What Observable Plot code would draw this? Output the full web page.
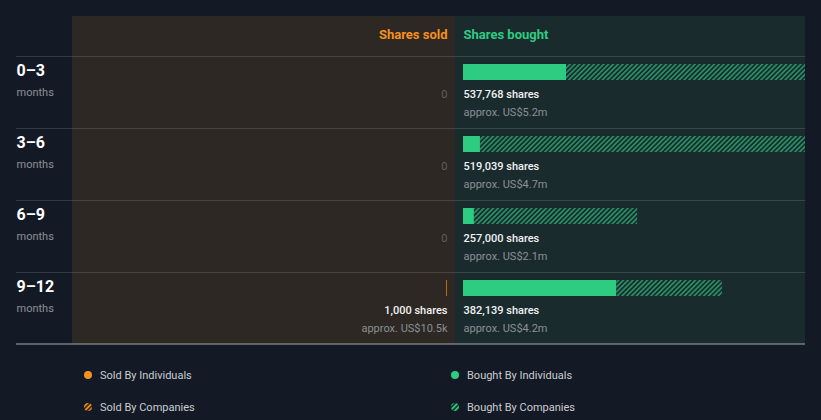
<!DOCTYPE html>
<html>
<head>
<meta charset="utf-8">
<script src="https://cdn.jsdelivr.net/npm/d3@7"></script>
<script src="https://cdn.jsdelivr.net/npm/@observablehq/plot@0.6"></script>
<style>
  body { margin: 0; background: #141a25; font-family: Roboto, "Noto Sans", sans-serif; }
  #chart svg { display: block; }
  #legend { display: block; }
</style>
</head>
<body>
<div id="chart"></div>
<svg id="legend" width="821" height="70"></svg>
<script>
// ---- data ----
const periods = ["0–3", "3–6", "6–9", "9–12"];
const periodUnit = "months";
const soldIndividuals = [0, 0, 0, 1000];
const soldCompanies = [0, 0, 0, 0];
const soldValue = ["", "", "", "US$10.5k"];
const boughtIndividuals = [152000, 25000, 16000, 226000];
const boughtCompanies = [385768, 494039, 241000, 156139];
const boughtValue = ["US$5.2m", "US$4.7m", "US$2.1m", "US$4.2m"];
const headers = ["Shares sold", "Shares bought"];
const legendLabels = ["Sold By Individuals", "Bought By Individuals", "Sold By Companies", "Bought By Companies"];

// ---- styling ----
const ORANGE = "#f5901e";
const GREEN = "#2ecc80";
const X_MIN = -648000, X_MAX = 516600, SOLD_START = -565300;
const HEADER = -40 / 72;
const fmt = d3.format(",");

const rows = periods.map((p, i) => ({
  i, period: p,
  sInd: soldIndividuals[i], sComp: soldCompanies[i], sTot: soldIndividuals[i] + soldCompanies[i], sVal: soldValue[i],
  bInd: boughtIndividuals[i], bComp: boughtCompanies[i], bTot: boughtIndividuals[i] + boughtCompanies[i], bVal: boughtValue[i]
}));

const panels = [
  {x1: SOLD_START, x2: 0, fill: "#2d2823"},
  {x1: 0, x2: X_MAX, fill: "#1a2b2e"}
];

const barOpts = {y1: "i", y2: d => d.i + 1, insetTop: 8, insetBottom: 48, clip: true};

const plot = Plot.plot({
  width: 821,
  height: 350,
  marginLeft: 16, marginRight: 16, marginTop: 16, marginBottom: 6,
  style: {background: "transparent", fontFamily: "Roboto, 'Noto Sans', sans-serif"},
  x: {domain: [X_MIN, X_MAX], axis: null},
  y: {domain: [HEADER, 4], range: [16, 344], axis: null},
  marks: [
    Plot.rect(panels, {x1: "x1", x2: "x2", y1: () => HEADER, y2: () => 4, fill: d => d.fill}),
    Plot.ruleY([0, 1, 2, 3], {stroke: "#ffffff", strokeOpacity: 0.13}),
    Plot.ruleY([4], {stroke: "#a3a8ae", dy: -0.5}),
    Plot.text([headers[0]], {x: () => 0, y: () => 0, text: d => d, dx: -8, dy: -22, textAnchor: "end", fill: ORANGE, fontSize: 13, fontWeight: 700}),
    Plot.text([headers[1]], {x: () => 0, y: () => 0, text: d => d, dx: 8, dy: -22, textAnchor: "start", fill: GREEN, fontSize: 13, fontWeight: 700}),
    // bought bars
    Plot.rect(rows, {...barOpts, x1: () => 0, x2: "bInd", dx: 8, fill: GREEN}),
    Plot.rect(rows, {...barOpts, x1: "bInd", x2: "bTot", dx: 8, fill: "url(#hatchG)"}),
    // sold bars
    Plot.rect(rows.filter(d => d.sTot > 0), {...barOpts, x1: d => -d.sInd, x2: () => 0, dx: -8, fill: ORANGE}),
    Plot.rect(rows.filter(d => d.sComp > 0), {...barOpts, x1: d => -d.sTot, x2: d => -d.sInd, dx: -8, fill: "url(#hatchO)"}),
    // bought labels
    Plot.text(rows.filter(d => d.bTot > 0), {x: () => 0, y: "i", dx: 8, dy: 38, text: d => fmt(d.bTot) + " shares", textAnchor: "start", fill: "#f2f2f2", fontSize: 11, fontWeight: 500}),
    Plot.text(rows.filter(d => d.bTot > 0), {x: () => 0, y: "i", dx: 8, dy: 56, text: d => "approx. " + d.bVal, textAnchor: "start", fill: "#8b9095", fontSize: 11}),
    Plot.text(rows.filter(d => d.bTot === 0), {x: () => 0, y: "i", dx: 8, dy: 38, text: () => "0", textAnchor: "start", fill: "#5d6166", fontSize: 11}),
    // sold labels
    Plot.text(rows.filter(d => d.sTot > 0), {x: () => 0, y: "i", dx: -8, dy: 38, text: d => fmt(d.sTot) + " shares", textAnchor: "end", fill: "#f2f2f2", fontSize: 11, fontWeight: 500}),
    Plot.text(rows.filter(d => d.sTot > 0), {x: () => 0, y: "i", dx: -8, dy: 56, text: d => "approx. " + d.sVal, textAnchor: "end", fill: "#8b9095", fontSize: 11}),
    Plot.text(rows.filter(d => d.sTot === 0), {x: () => 0, y: "i", dx: -8, dy: 38, text: () => "0", textAnchor: "end", fill: "#5d6166", fontSize: 11}),
    // row labels
    Plot.text(rows, {x: () => X_MIN, y: "i", dy: 14.5, text: "period", textAnchor: "start", fill: "#ffffff", fontSize: 16, fontWeight: 700}),
    Plot.text(rows, {x: () => X_MIN, y: "i", dy: 36, text: () => periodUnit, textAnchor: "start", fill: "#8b9095", fontSize: 11})
  ]
});

function addHatch(defs, id, color, bg) {
  const p = defs.append("pattern").attr("id", id).attr("patternUnits", "userSpaceOnUse")
    .attr("width", 3.4).attr("height", 3.4).attr("patternTransform", "rotate(45)");
  if (bg) p.append("rect").attr("width", 3.4).attr("height", 3.4).attr("fill", bg);
  p.append("rect").attr("width", 1.6).attr("height", 3.4).attr("fill", color);
}
const defs = d3.select(plot).insert("defs", ":first-child");
addHatch(defs, "hatchG", "#279467");
addHatch(defs, "hatchO", "#b86c1a");
document.getElementById("chart").appendChild(plot);

// ---- legend ----
const lg = d3.select("#legend");
const ldefs = lg.append("defs");
addHatch(ldefs, "lhatchG", GREEN, "#1c3a33");
addHatch(ldefs, "lhatchO", ORANGE, "#3a2a1a");
const items = [
  {label: legendLabels[0], x: 88, y: 25, fill: ORANGE},
  {label: legendLabels[1], x: 455, y: 25, fill: GREEN},
  {label: legendLabels[2], x: 88, y: 57, fill: "url(#lhatchO)"},
  {label: legendLabels[3], x: 455, y: 57, fill: "url(#lhatchG)"}
];
const g = lg.selectAll("g").data(items).join("g");
g.append("circle").attr("cx", d => d.x).attr("cy", d => d.y).attr("r", 4).attr("fill", d => d.fill);
g.append("text").attr("x", d => d.x + 12).attr("y", d => d.y).attr("dy", "0.35em")
  .attr("fill", "#c9ccd1").attr("font-size", 11).attr("font-family", "Roboto, 'Noto Sans', sans-serif")
  .text(d => d.label);
</script>
</body>
</html>
